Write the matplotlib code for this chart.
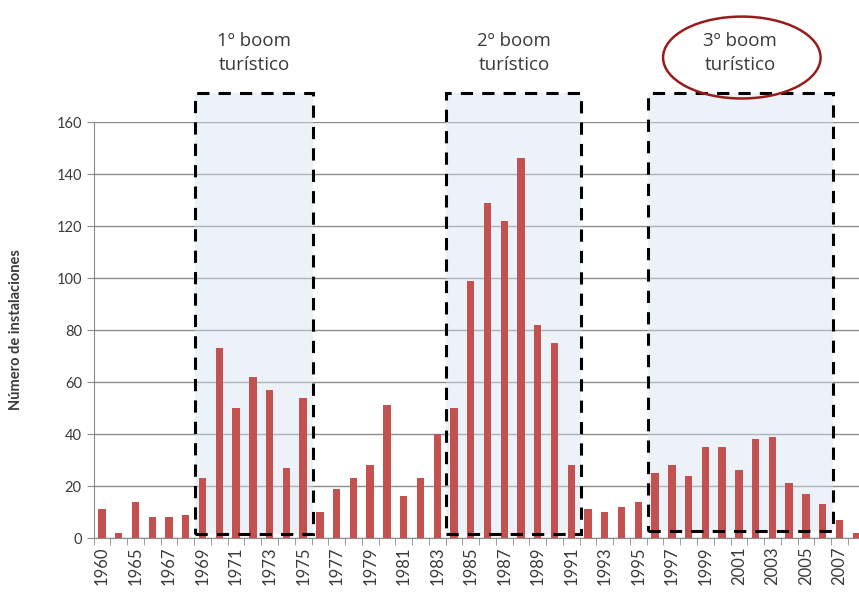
import matplotlib.pyplot as plt
from matplotlib.patches import Rectangle, Ellipse
import numpy as np

plt.rcParams["font.family"] = ["Lato", "DejaVu Sans"]

YEARS = ["1960", "1963", "1965", "1966", "1967", "1968", "1969", "1970", "1971", "1972",
         "1973", "1974", "1975", "1976", "1977", "1978", "1979", "1980", "1981", "1982",
         "1983", "1984", "1985", "1986", "1987", "1988", "1989", "1990", "1991", "1992",
         "1993", "1994", "1995", "1996", "1997", "1998", "1999", "2000", "2001", "2002",
         "2003", "2004", "2005", "2006", "2007", "2008"]
COUNTS = [11, 2, 14, 8, 8, 9, 23, 73, 50, 62,
          57, 27, 54, 10, 19, 23, 28, 51, 16, 23,
          40, 50, 99, 129, 122, 146, 82, 75, 28, 11,
          10, 12, 14, 25, 28, 24, 35, 35, 26, 38,
          39, 21, 17, 13, 7, 2]

# boom periods: (first year, last year, label)
BOOMS = [("1969", "1975", "1º boom\nturístico"),
         ("1984", "1991", "2º boom\nturístico"),
         ("1996", "2006", "3º boom\nturístico")]

BAR = "#c2514f"
GRID = "#8c8c8c"
TXT = "#3a3a3a"

fig = plt.figure(figsize=(8.59, 5.92), dpi=100)
ax = fig.add_axes([0.109, 0.0912, 0.8975, 0.7027])

x = np.arange(len(YEARS))
ax.bar(x, COUNTS, width=0.44, color=BAR, zorder=3)

ax.set_xlim(-0.5, len(YEARS) - 0.5)
ax.set_ylim(0, 160)
ax.set_yticks(range(0, 161, 20))
ax.yaxis.grid(True, color=GRID, linewidth=1.0, zorder=1)
ax.set_axisbelow(True)

ax.set_xticks(x[::2])
ax.set_xticklabels(YEARS[::2], rotation=90, fontsize=12, color=TXT)
ax.set_xticks(np.arange(-0.5, len(YEARS), 1), minor=True)
ax.tick_params(axis="x", which="major", length=0, pad=6)
ax.tick_params(axis="x", which="minor", length=5, color=GRID)
ax.tick_params(axis="y", length=5, color=GRID, labelsize=10.5, labelcolor=TXT)

for side in ("top", "right"):
    ax.spines[side].set_visible(False)
for side in ("left", "bottom"):
    ax.spines[side].set_color(GRID)

ax.set_ylabel("Número de instalaciones", fontsize=10.5, fontweight="bold", color=TXT, labelpad=24)

for i, (y0, y1, label) in enumerate(BOOMS):
    a = YEARS.index(y0) - 0.45
    b = YEARS.index(y1) + 0.6
    bottom = 1.5 if i < 2 else 2.7
    top = 171
    ax.add_patch(Rectangle((a, bottom), b - a, top - bottom, facecolor="#d6e3f0", alpha=0.45,
                           edgecolor="none", zorder=2, clip_on=False))
    ax.add_patch(Rectangle((a, bottom), b - a, top - bottom, facecolor="none",
                           edgecolor="black", linewidth=2.2, linestyle=(0, (4, 3)),
                           zorder=4, clip_on=False))
    ax.text((a + b) / 2, 186.5, label, ha="center", va="center", fontsize=13.5,
            color=TXT, linespacing=1.45, clip_on=False,
            family=["Open Sans", "DejaVu Sans"])
    if i == 2:
        ax.add_patch(Ellipse(((a + b) / 2 + 0.1, 184.8), 9.4, 31.5, facecolor="none",
                             edgecolor="#981c1c", linewidth=1.8, clip_on=False, zorder=5))

fig.savefig("out.png", dpi=100)
